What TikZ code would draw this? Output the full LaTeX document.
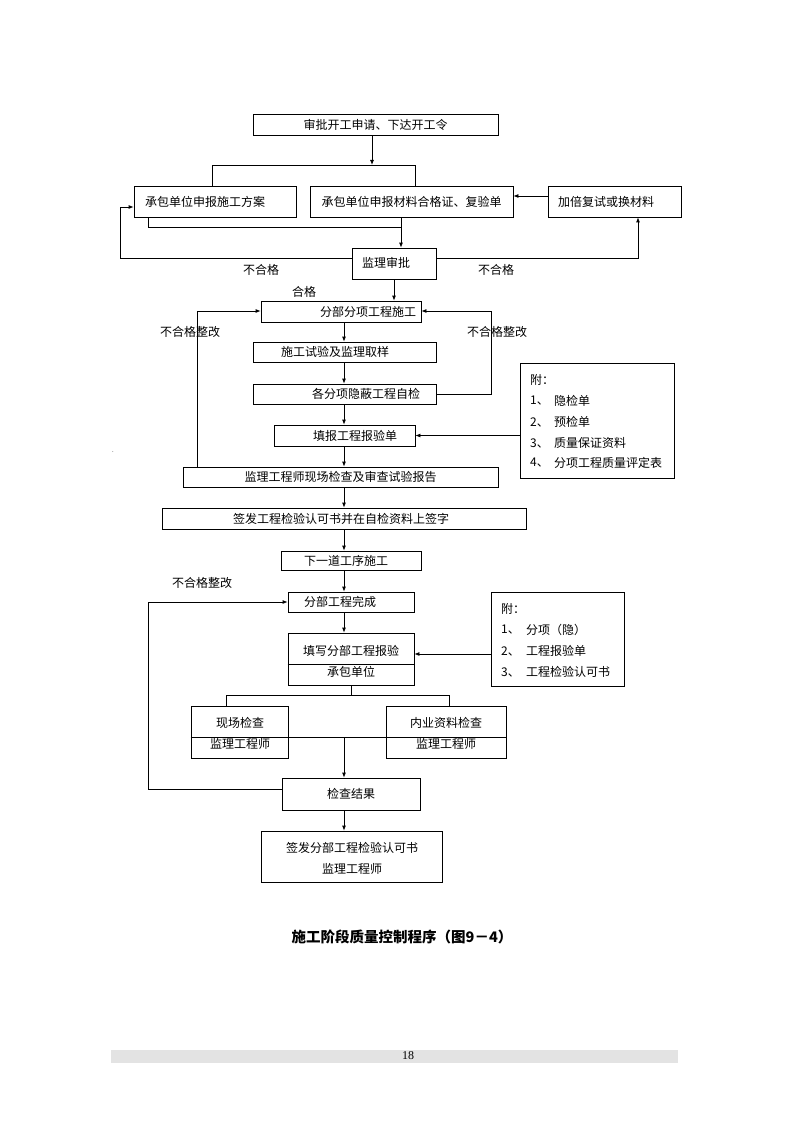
\documentclass[tikz,border=0pt]{standalone}
\usepackage{fontspec}
\setmainfont{Noto Sans CJK SC}
\newfontfamily\numfont{Liberation Serif}
\usetikzlibrary{arrows.meta}
\definecolor{bargray}{HTML}{E3E3E3}
\newcommand\bx[6]{\node[box, minimum width={#4-#2}, minimum height={#5-#3}] (#1) at ({(#2+#4)/2},{(#3+#5)/2}) {#6};}
\begin{document}
\begin{tikzpicture}[x=1pt,y=-1pt,
 box/.style={draw, line width=0.8pt, inner sep=0pt, rectangle},
 txt/.style={inner sep=0pt},
 ln/.style={line width=0.8pt},
 arr/.style={ln, -{Latex[length=5pt,width=4pt]}},
 every node/.style={font=\fontsize{12}{14}\selectfont}]
\fill[white] (0,0) rectangle (794,1123);
\useasboundingbox (0,0) rectangle (794,1123);

% ---- boxes ----
\bx{top}{253}{114}{498}{135}{审批开工申请、下达开工令}
\bx{A}{134}{186}{296}{217}{}
\node[txt] (At) at (205,202) {承包单位申报施工方案};
\bx{B}{310}{186}{513}{217}{承包单位申报材料合格证、复验单}
\bx{C}{548}{186}{681}{217}{}
\node[txt] (Ct) at (606,202) {加倍复试或换材料};
\bx{jl}{352}{248}{436}{279}{}
\node[txt] (jlt) at (386,263) {监理审批};
\bx{fbfx}{261}{301}{421}{322}{}
\node[txt] (fbfxt) at (368,312) {分部分项工程施工};
\bx{sgsy}{253}{342}{436}{362}{}
\node[txt] (sgsyt) at (335,352) {施工试验及监理取样};
\bx{gfx}{253}{384}{436}{404}{}
\node[txt] (gfxt) at (366,394) {各分项隐蔽工程自检};
\bx{tb}{274}{425}{415}{446}{}
\node[txt] (tbt) at (355,435.5) {填报工程报验单};
\bx{jlgcs}{183}{467}{498}{487}{监理工程师现场检查及审查试验报告}
\bx{qf}{162}{508}{526}{529}{}
\node[txt] (qft) at (341,518.5) {签发工程检验认可书并在自检资料上签字};
\bx{xyd}{281}{551}{421}{570}{}
\node[txt] (xydt) at (346,560.5) {下一道工序施工};
\bx{fbwc}{288}{592}{414}{612}{}
\node[txt] (fbwct) at (340,602) {分部工程完成};
\bx{tx}{288}{633}{414}{685}{}
\node[txt] (txt1) at (351,651) {填写分部工程报验};
\node[txt] (txt2) at (351,672) {承包单位};
\bx{xc}{191}{706}{288}{758}{}
\node[txt] (xct1) at (240,723) {现场检查};
\node[txt] (xct2) at (240,744) {监理工程师};
\bx{ny}{386}{706}{506}{758}{}
\node[txt] (nyt1) at (446,723) {内业资料检查};
\node[txt] (nyt2) at (446,744) {监理工程师};
\bx{jc}{282}{778}{420}{810}{检查结果}
\bx{fin}{261}{831}{442}{882}{}
\node[txt] (fint1) at (352,848) {签发分部工程检验认可书};
\node[txt] (fint2) at (352,869) {监理工程师};

% attachment boxes
\bx{att1}{520}{363}{674}{478}{}
\node[txt, anchor=west] (a1h) at (530,380) {附：};
\node[txt, anchor=west] (a1n1) at (530,401) {1、};
\node[txt, anchor=west] (a1i1) at (554,401) {隐检单};
\node[txt, anchor=west] (a1n2) at (530,422) {2、};
\node[txt, anchor=west] (a1i2) at (554,422) {预检单};
\node[txt, anchor=west] (a1n3) at (530,443) {3、};
\node[txt, anchor=west] (a1i3) at (554,443) {质量保证资料};
\node[txt, anchor=west] (a1n4) at (530,463) {4、};
\node[txt, anchor=west] (a1i4) at (554,463) {分项工程质量评定表};

\bx{att2}{491}{592}{624}{686}{}
\node[txt, anchor=west] (a2h) at (501,609) {附：};
\node[txt, anchor=west] (a2n1) at (501,630) {1、};
\node[txt, anchor=west] (a2i1) at (526,630) {分项（隐）};
\node[txt, anchor=west] (a2n2) at (501,651) {2、};
\node[txt, anchor=west] (a2i2) at (526,651) {工程报验单};
\node[txt, anchor=west] (a2n3) at (501,672) {3、};
\node[txt, anchor=west] (a2i3) at (526,672) {工程检验认可书};

% ---- labels ----
\node[txt] (bh1) at (261,270) {不合格};
\node[txt] (bh2) at (496,270) {不合格};
\node[txt] (hg) at (304,292) {合格};
\node[txt] (zg1) at (190,332) {不合格整改};
\node[txt] (zg2) at (497,332) {不合格整改};
\node[txt] (zg3) at (202,583) {不合格整改};
\node[txt, font=\fontsize{6}{6}\selectfont] (dot) at (113,452) {.};

% ---- coordinates ----
\coordinate (j1) at (372,165);
\coordinate (j1L) at (212,165);
\coordinate (j1R) at (415,165);
\coordinate (cb) at (530,196);
\coordinate (j2) at (148.5,227);
\coordinate (j2R) at (401,227);
\coordinate (lL) at (120,258);
\coordinate (aL) at (120,207);
\coordinate (lR) at (638,258);
\coordinate (l2) at (197,311);
\coordinate (r2) at (491,311);
\coordinate (mx) at (344,0);
\coordinate (a2) at (450,654);
\coordinate (b1) at (351,695);
\coordinate (b1L) at (226,695);
\coordinate (b1R) at (449,695);
\coordinate (dv) at (344,737);
\coordinate (l3) at (148,789);

% ---- connectors ----
\draw[arr] (top.south -| j1) -- (j1);
\draw[ln] (A.north -| j1L) -- (j1L) -- (j1R) -- (B.north -| j1R);
\draw[arr] (C.west |- cb) -- (B.east |- cb);
\draw[ln] (A.south -| j2) -- (j2) -- (j2R);
\draw[arr] (B.south -| j2R) -- (jl.north -| j2R);
\draw[arr] (jl.west |- lL) -- (lL) -- (aL) -- (A.west |- aL);
\draw[arr] (jl.east |- lR) -- (lR) -- (C.south -| lR);
\draw[arr] (jl.south) -- (fbfx.north -| jl.south);
\draw[arr] (jlgcs.north -| l2) -- (l2) -- (fbfx.west |- l2);
\draw[arr] (gfx.east) -- (gfx.east -| r2) -- (r2) -- (fbfx.east |- r2);
\draw[arr] (fbfx.south -| mx) -- (sgsy.north -| mx);
\draw[arr] (sgsy.south -| mx) -- (gfx.north -| mx);
\draw[arr] (gfx.south -| mx) -- (tb.north -| mx);
\draw[arr] (tb.south -| mx) -- (jlgcs.north -| mx);
\draw[arr] (jlgcs.south -| mx) -- (qf.north -| mx);
\draw[arr] (qf.south -| mx) -- (xyd.north -| mx);
\draw[arr] (xyd.south -| mx) -- (fbwc.north -| mx);
\draw[arr] (fbwc.south -| mx) -- (tx.north -| mx);
\draw[arr] (att1.west |- tb.east) -- (tb.east);
\draw[arr] (att2.west |- a2) -- (tx.east |- a2);
\draw[ln] (tx.west |- 0,664) -- (tx.east |- 0,664);
\draw[ln] (tx.south -| b1) -- (b1);
\draw[ln] (xc.north -| b1L) -- (b1L) -- (b1R) -- (ny.north -| b1R);
\draw[ln] (xc.west |- dv) -- (ny.east |- dv);
\draw[arr] (dv) -- (jc.north -| dv);
\draw[arr] (jc.west |- l3) -- (l3) |- (fbwc.west);
\draw[arr] (jc.south -| mx) -- (fin.north -| mx);

% ---- caption & footer ----
\node[font=\fontsize{14.5}{16}\selectfont\bfseries] (cap) at (402,937) {施工阶段质量控制程序（图9－4）};
\node[fill=bargray, inner sep=0pt, minimum width=567, minimum height=13] (bar) at (394.5,1056.5) {};
\node[font=\numfont\fontsize{12}{12}\selectfont, inner sep=0pt] (pg) at (408,1056) {18};
\end{tikzpicture}
\end{document}
